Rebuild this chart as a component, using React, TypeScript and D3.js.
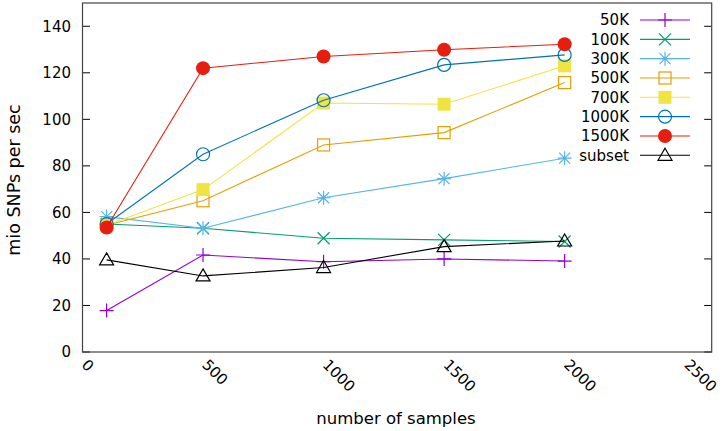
import React from "react";
import * as d3 from "d3";

const samples = [100, 500, 1000, 1500, 2000];
const seriesNames = ["50K", "100K", "300K", "500K", "700K", "1000K", "1500K", "subset"];
const s50K = [17.8, 41.7, 38.8, 40.0, 39.1];
const s100K = [55.0, 53.2, 48.9, 48.2, 47.5];
const s300K = [58.2, 53.2, 66.3, 74.5, 83.3];
const s500K = [54.5, 65.0, 89.0, 94.3, 115.8];
const s700K = [54.5, 69.8, 107.0, 106.5, 123.0];
const s1000K = [55.0, 85.0, 108.2, 123.4, 127.7];
const s1500K = [53.5, 122.0, 127.0, 129.9, 132.3];
const sSubset = [39.6, 32.7, 36.3, 45.3, 47.7];
const xTicks = [0, 500, 1000, 1500, 2000, 2500];
const yTicks = [0, 20, 40, 60, 80, 100, 120, 140];

const allValues = [s50K, s100K, s300K, s500K, s700K, s1000K, s1500K, sSubset];
const colors = ["#9400d3", "#009e73", "#56b4e9", "#e69f00", "#f0e442", "#0072b2", "#e51e10", "#000000"];
const markers = ["plus", "cross", "star", "sq", "fsq", "circ", "fcirc", "tri"];

const L = 82.5, R = 711.7, T = 3, B = 352;
const font = "'DejaVu Sans', sans-serif";

function Marker({ type, x, y, color }: { type: string; x: number; y: number; color: string }) {
  const t = `translate(${x},${y})`;
  const sw = 1.2;
  switch (type) {
    case "plus":
      return <path transform={t} d="M-7,0H7M0,-7V7" stroke={color} strokeWidth={sw} fill="none" />;
    case "cross":
      return <path transform={t} d="M-6,-6L6,6M-6,6L6,-6" stroke={color} strokeWidth={sw} fill="none" />;
    case "star":
      return <path transform={t} d="M-7,0H7M0,-7V7M-5.5,-5.5L5.5,5.5M-5.5,5.5L5.5,-5.5" stroke={color} strokeWidth={sw} fill="none" />;
    case "sq":
      return <rect transform={t} x={-6} y={-6} width={12} height={12} stroke={color} strokeWidth={sw} fill="none" />;
    case "fsq":
      return <rect transform={t} x={-6.5} y={-6.5} width={13} height={13} fill={color} />;
    case "circ":
      return <circle transform={t} r={6.5} stroke={color} strokeWidth={sw} fill="none" />;
    case "fcirc":
      return <circle transform={t} r={7} fill={color} />;
    case "tri":
      return <path transform={t} d="M0,-7L7,5H-7Z" stroke={color} strokeWidth={sw} fill="none" />;
  }
  return null;
}

export default function App() {
  const x = d3.scaleLinear().domain([0, 2610]).range([L, R]);
  const y = d3.scaleLinear().domain([0, 150]).range([B, T]);
  const line = d3.line<number>().x((_, i) => x(samples[i])).y((d) => y(d));

  return (
    <svg width={726} height={431} style={{ position: "absolute", left: 0, top: 0, background: "#fff" }} fontFamily={font}>
      {yTicks.map((v) => (
        <g key={v}>
          <line x1={L} x2={L + 7.5} y1={y(v)} y2={y(v)} stroke="#000" />
          <line x1={R - 7.5} x2={R} y1={y(v)} y2={y(v)} stroke="#000" />
          <text x={71} y={y(v)} dy="0.36em" textAnchor="end" fontSize={15}>{v}</text>
        </g>
      ))}
      {xTicks.map((v) => (
        <text key={v} transform={`translate(${x(v) + 2},${362}) rotate(45)`} fontSize={15} dy="0.35em">{v}</text>
      ))}
      {allValues.map((vals, si) => (
        <g key={si}>
          <path d={line(vals) || ""} fill="none" stroke={colors[si]} strokeWidth={1.1} />
          {vals.map((v, i) => (
            <Marker key={i} type={markers[si]} x={x(samples[i])} y={y(v)} color={colors[si]} />
          ))}
        </g>
      ))}
      {seriesNames.map((n, i) => {
        const ly = 20 + i * 19.33;
        return (
          <g key={n}>
            <text x={629} y={ly} dy="0.36em" textAnchor="end" fontSize={15}>{n}</text>
            <line x1={640} x2={690} y1={ly} y2={ly} stroke={colors[i]} strokeWidth={1.1} />
            <Marker type={markers[i]} x={665} y={ly} color={colors[i]} />
          </g>
        );
      })}
      <rect x={L} y={T} width={R - L} height={B - T} fill="none" stroke="#444" strokeWidth={1.2} />
      <text transform={`translate(20,180) rotate(-90)`} textAnchor="middle" fontSize={17.5}>mio SNPs per sec</text>
      <text x={396} y={424} textAnchor="middle" fontSize={16.5}>number of samples</text>
    </svg>
  );
}
